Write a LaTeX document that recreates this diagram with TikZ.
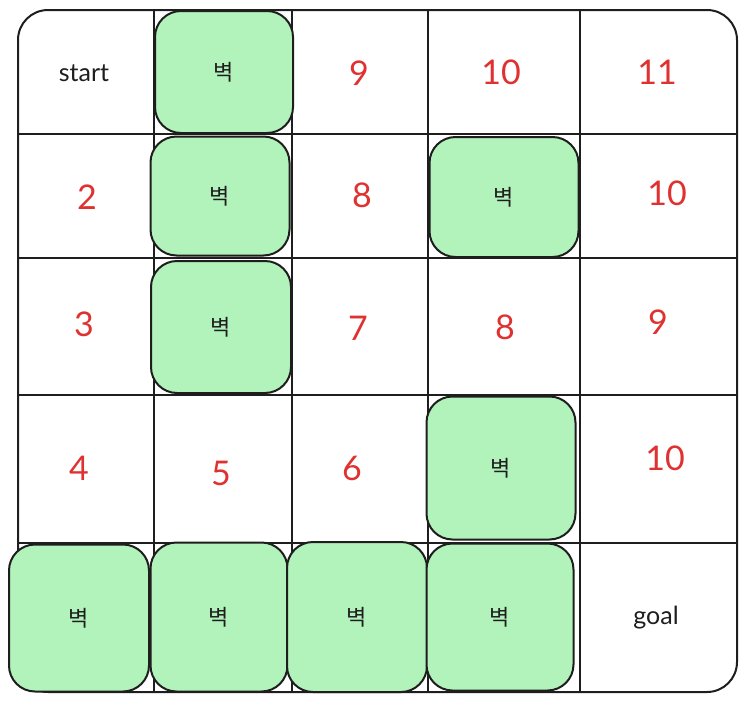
\documentclass[tikz,border=0pt]{standalone}
\usepackage{fontspec}
\setmainfont{Lato}
\newfontfamily\krfont{Noto Sans CJK KR}
\usepackage{tikz}
\usetikzlibrary{positioning}
\definecolor{ink}{HTML}{1E1E1E}
\definecolor{wallgreen}{HTML}{B2F2BB}
\definecolor{numred}{HTML}{E03131}

\begin{document}
\begin{tikzpicture}
	[x=1pt,y=-1pt,
	 every node/.style={inner sep=0pt},
	 gridline/.style={draw=ink,line width=2pt},
	 wall/.style={draw=ink,line width=2pt,fill=wallgreen,rounded corners=26pt,
	   font=\krfont\fontsize{22}{22}\selectfont,text=ink},
	 num/.style={text=numred,font=\fontsize{34}{34}\selectfont},
	 word/.style={text=ink,font=\fontsize{25}{25}\selectfont}]
	\useasboundingbox (0,0) rectangle (748,702);
	% grid
	\draw[gridline,rounded corners=30pt] (18,10) rectangle (737,692);
	\foreach \gx in {154,292,428,580}
	  \draw[gridline] (\gx,10) -- (\gx,692);
	\foreach \gy in {134,258,395,543}
	  \draw[gridline] (18,\gy) -- (737,\gy);
	% walls
	\node[wall,minimum width=138pt,minimum height=122pt] (w01) at (224,72) {벽};
	\node[wall,minimum width=139pt,minimum height=119pt] (w11) at (220,196) {벽};
	\node[wall,minimum width=140pt,minimum height=132pt] (w21) at (221,327) {벽};
	\node[wall,minimum width=149pt,minimum height=120pt] (w13) at (504,197) {벽};
	\node[wall,minimum width=149pt,minimum height=143pt] (w33) at (501,468) {벽};
	\node[wall,minimum width=140pt,minimum height=147pt] (w40) at (79,618) {벽};
	\node[wall,minimum width=137pt,minimum height=149pt] (w41) at (219,617) {벽};
	\node[wall,minimum width=140pt,minimum height=150pt] (w42) at (357,617) {벽};
	\node[wall,minimum width=147pt,minimum height=147pt] (w43) at (500,617) {벽};
	% steps
	\node[word] (start) at (84,73) {start};
	\node[num] (n02) at (359,73) {9};
	\node[num] (n03) at (501,72) {10};
	\node[num] (n04) at (657,72) {11};
	\node[num] (n10) at (87,197) {2};
	\node[num] (n12) at (362,195) {8};
	\node[num] (n14) at (667,193) {10};
	\node[num] (n20) at (84,324) {3};
	\node[num] (n22) at (358,328) {7};
	\node[num] (n23) at (505,327) {8};
	\node[num] (n24) at (658,322) {9};
	\node[num] (n30) at (79,468) {4};
	\node[num] (n31) at (221,473) {5};
	\node[num] (n32) at (352,468) {6};
	\node[num] (n34) at (665,458) {10};
	\node[word] (goal) at (656,618) {goal};
\end{tikzpicture}
\end{document}
